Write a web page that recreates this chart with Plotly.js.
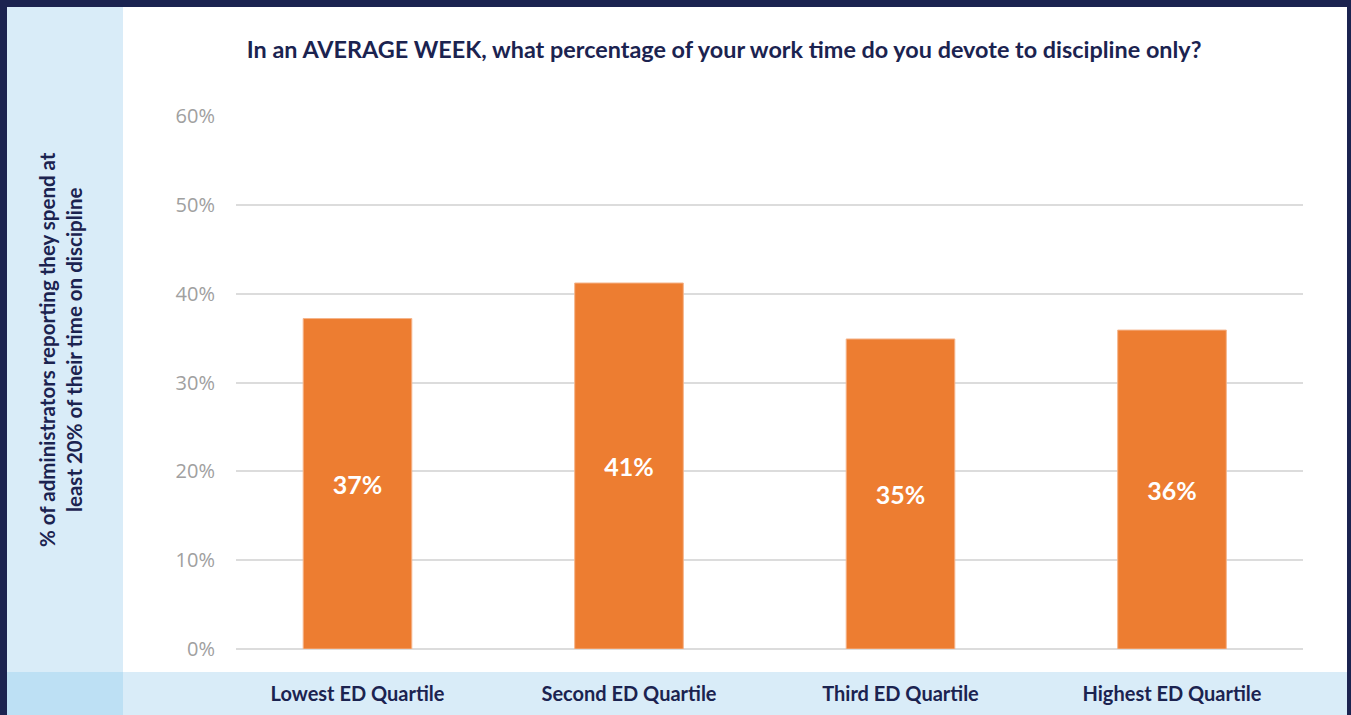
<!DOCTYPE html>
<html>
<head>
<meta charset="utf-8">
<script src="https://cdn.plot.ly/plotly-3.0.1.min.js"></script>
<style>
  html, body { margin: 0; padding: 0; background: #ffffff; }
  #frame { position: relative; width: 1351px; height: 715px; overflow: hidden; background: #ffffff; }
  .bg { position: absolute; }
  #chart { position: absolute; left: 0; top: 0; width: 1351px; height: 715px; }
</style>
</head>
<body>
<div id="frame">
  <div class="bg" style="left:0;top:0;width:1351px;height:7px;background:#1b2350;"></div>
  <div class="bg" style="left:0;top:0;width:7px;height:715px;background:#1b2350;"></div>
  <div class="bg" style="left:1347px;top:0;width:4px;height:715px;background:#1b2350;"></div>
  <div class="bg" style="left:7px;top:7px;width:116px;height:665px;background:#d9ecf8;"></div>
  <div class="bg" style="left:7px;top:672px;width:116px;height:43px;background:#bde0f4;"></div>
  <div class="bg" style="left:123px;top:672px;width:1224px;height:43px;background:#d9ecf8;"></div>
  <div id="chart"></div>
</div>
<script>
const categories = ["Lowest ED Quartile", "Second ED Quartile", "Third ED Quartile", "Highest ED Quartile"];
const values = [37.2, 41.2, 34.9, 35.9];
const valueLabels = ["37%", "41%", "35%", "36%"];
const yTickVals = [0, 10, 20, 30, 40, 50, 60];
const yTickText = ["0%", "10%", "20%", "30%", "40%", "50%", "60%"];
const chartTitle = "In an AVERAGE WEEK, what percentage of your work time do you devote to discipline only?";
const yTitle = "% of administrators reporting they spend at<br>least 20% of their time on discipline";

const navy = "#1b2350";
const titleFont = "Lato, 'Open Sans', sans-serif";

const trace = {
  type: "bar",
  x: categories.map((c, i) => i),
  y: values,
  width: 0.4,
  text: valueLabels,
  textposition: "inside",
  insidetextanchor: "middle",
  textfont: { family: titleFont, size: 25, color: "#ffffff", weight: "bold" },
  marker: { color: "#ed7d31", line: { color: "#f5b48a", width: 1 } },
  hoverinfo: "none",
  cliponaxis: false
};

const layout = {
  width: 1351,
  height: 715,
  paper_bgcolor: "rgba(0,0,0,0)",
  plot_bgcolor: "rgba(0,0,0,0)",
  margin: { l: 236, r: 48, t: 116, b: 66 },
  showlegend: false,
  title: {
    text: chartTitle,
    font: { family: titleFont, size: 23.4, color: navy, weight: "bold" },
    x: 0.536, xref: "container", xanchor: "center",
    y: 1 - 50 / 715, yref: "container", yanchor: "middle"
  },
  xaxis: {
    range: [-0.4475, 3.4825],
    tickmode: "array",
    tickvals: [0, 1, 2, 3],
    ticktext: categories,
    showgrid: false,
    zeroline: false,
    showline: false,
    ticks: "",
    ticklabelstandoff: 31,
    tickfont: { family: titleFont, size: 20, color: navy, weight: "bold" },
    fixedrange: true
  },
  yaxis: {
    range: [0, 60],
    tickmode: "array",
    tickvals: yTickVals,
    ticktext: yTickText,
    showgrid: true,
    gridcolor: "#dcdcdc",
    gridwidth: 2,
    zeroline: true,
    zerolinecolor: "#dcdcdc",
    zerolinewidth: 2,
    showline: false,
    ticks: "",
    ticklabelstandoff: 20,
    tickfont: { family: "'Open Sans', sans-serif", size: 20, color: "#a0a0a0" },
    fixedrange: true
  },
  annotations: [{
    text: yTitle,
    xref: "paper", yref: "paper",
    x: (60 - 236) / 1067, y: (649 - 350) / 533,
    xanchor: "center", yanchor: "middle",
    textangle: -90,
    showarrow: false,
    align: "center",
    font: { family: titleFont, size: 20.5, color: navy, weight: "bold" }
  }]
};

Plotly.newPlot("chart", [trace], layout, { displayModeBar: false, staticPlot: true });
</script>
</body>
</html>
